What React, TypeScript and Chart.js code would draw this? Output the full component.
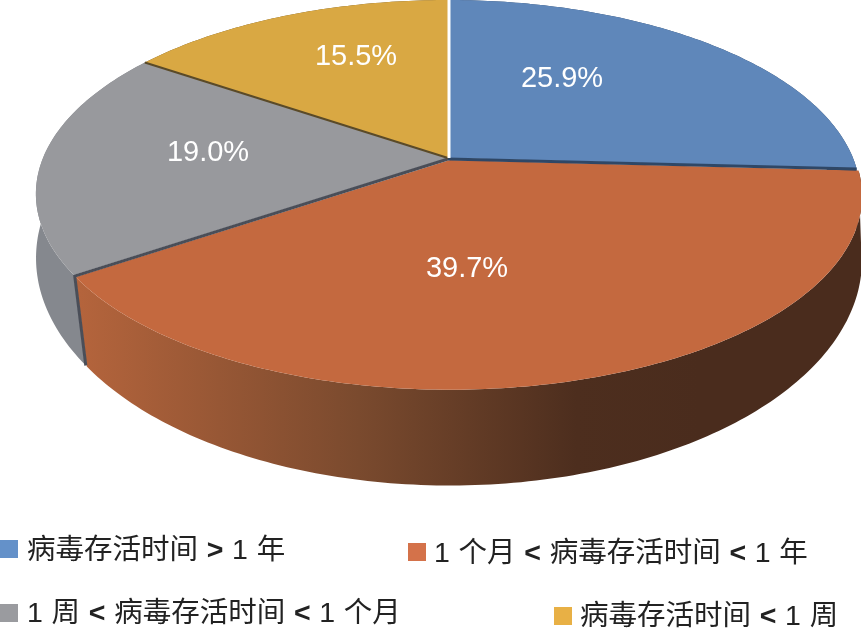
import React, { useEffect, useRef } from "react";
import { Chart, registerables } from "chart.js";

Chart.register(...registerables);

const categories = [
  "病毒存活时间 > 1 年",
  "1 个月 < 病毒存活时间 < 1 年",
  "1 周 < 病毒存活时间 < 1 个月",
  "病毒存活时间 < 1 周",
];
const shares = [25.9, 39.7, 19.0, 15.5];
const topColors = ["#5F87BA", "#C4693F", "#98999D", "#D9A843"];
const swatchColors = ["#6491C9", "#D4724A", "#9A9B9F", "#E8B045"];
const labelCenters = [
  [562, 77],
  [467, 267],
  [208, 151],
  [356, 55],
];
const legendBoxes = [
  { sx: 0, sy: 540, tx: 27, ty: 549 },
  { sx: 408, sy: 543, tx: 434, ty: 552 },
  { sx: 0, sy: 604, tx: 27, ty: 612 },
  { sx: 554, sy: 607, tx: 580, ty: 615 },
];

type Face = { cx: number; cy: number; rx: number; ry: number; k: number };
const TOP: Face = { cx: 448, cy: 158, rx: 405, ry: 187.2, k: 0.185 };
const BOTTOM: Face = { cx: 448, cy: 231, rx: 409, ry: 222.2, k: 0.12 };
const explode = [
  [0, 0],
  [2, 2],
  [0, 0],
  [0, 0],
];

const project = (f: Face, a: number, r = 1, dx = 0, dy = 0) => {
  const x = Math.cos(a) * r;
  const y = Math.sin(a) * r;
  const d = 1 - f.k * y;
  return [f.cx + dx + (f.rx * x) / d, f.cy + dy + (f.ry * y) / d];
};

const arcPoints = (f: Face, a0: number, a1: number, dx = 0, dy = 0) => {
  const n = Math.max(8, Math.ceil(Math.abs(a1 - a0) * 60));
  const pts: number[][] = [];
  for (let i = 0; i <= n; i++) pts.push(project(f, a0 + ((a1 - a0) * i) / n, 1, dx, dy));
  return pts;
};

const poly = (ctx: CanvasRenderingContext2D, pts: number[][]) => {
  ctx.beginPath();
  pts.forEach((p, i) => (i ? ctx.lineTo(p[0], p[1]) : ctx.moveTo(p[0], p[1])));
  ctx.closePath();
};

const sideFill = (ctx: CanvasRenderingContext2D, i: number) => {
  const g = ctx.createLinearGradient(80, 0, 700, 0);
  if (i === 1) {
    g.addColorStop(0, "#B4643C");
    g.addColorStop(0.45, "#7A4A2E");
    g.addColorStop(0.8, "#4D2E1E");
    g.addColorStop(1, "#4A2C1D");
  } else if (i === 2) {
    g.addColorStop(0, "#85888E");
    g.addColorStop(0.1, "#7E8188");
    g.addColorStop(1, "#7E8188");
  } else if (i === 0) {
    g.addColorStop(0, "#2F4766");
    g.addColorStop(1, "#2F4766");
  } else {
    g.addColorStop(0, "#6A5120");
    g.addColorStop(1, "#6A5120");
  }
  return g;
};

const pie3d = {
  id: "pie3d",
  beforeDatasetsDraw(chart: any) {
    const ctx: CanvasRenderingContext2D = chart.ctx;
    const arcs = chart.getDatasetMeta(0).data;
    const order = [3, 0, 2, 1];
    ctx.save();
    // Side walls
    order.forEach((i) => {
      const { startAngle: a0, endAngle: a1 } = arcs[i];
      const [dx, dy] = explode[i];
      ctx.fillStyle = sideFill(ctx, i);
      poly(ctx, [...arcPoints(TOP, a0, a1, dx, dy), ...arcPoints(BOTTOM, a0, a1, dx, dy).reverse()]);
      ctx.fill();
    });
    const orange = arcs[1];
    const seamA = project(TOP, orange.startAngle);
    const seamB = project(TOP, orange.endAngle);
    // Top faces
    order.forEach((i) => {
      const { startAngle: a0, endAngle: a1 } = arcs[i];
      const [dx, dy] = explode[i];
      ctx.fillStyle = topColors[i];
      poly(ctx, [[TOP.cx + dx, TOP.cy + dy], ...arcPoints(TOP, a0, a1, dx, dy)]);
      ctx.fill();
    });
    // Seam lines: the gap around the exploded slice
    ctx.lineCap = "butt";
    ctx.lineWidth = 3;
    ctx.strokeStyle = "#2F4766";
    ctx.beginPath();
    ctx.moveTo(TOP.cx, TOP.cy + 1);
    ctx.lineTo(seamA[0], seamA[1] + 0.5);
    ctx.stroke();
    ctx.strokeStyle = "#4A4E58";
    const bottomLeft = project(BOTTOM, orange.endAngle);
    ctx.beginPath();
    ctx.moveTo(TOP.cx, TOP.cy + 1);
    ctx.lineTo(seamB[0] + 1, seamB[1] + 1);
    ctx.lineTo(bottomLeft[0] + 1, bottomLeft[1] + 1);
    ctx.stroke();
    ctx.lineWidth = 2;
    ctx.strokeStyle = "#5A4A28";
    const yg = project(TOP, arcs[3].startAngle);
    ctx.beginPath();
    ctx.moveTo(TOP.cx, TOP.cy);
    ctx.lineTo(yg[0], yg[1]);
    ctx.stroke();
    ctx.lineWidth = 3;
    ctx.strokeStyle = "#FFFFFF";
    const t = project(TOP, arcs[0].startAngle);
    ctx.beginPath();
    ctx.moveTo(t[0] + 1, -1);
    ctx.lineTo(TOP.cx + 1, TOP.cy);
    ctx.stroke();
    // Value labels
    ctx.fillStyle = "#FFFFFF";
    ctx.font = '29px "Liberation Sans", Arial, sans-serif';
    ctx.textAlign = "center";
    ctx.textBaseline = "middle";
    shares.forEach((v, i) => {
      ctx.fillText(`${v.toFixed(1)}%`, labelCenters[i][0], labelCenters[i][1] + 2);
    });
    ctx.restore();
    return false;
  },
};

export default function App() {
  const ref = useRef<HTMLCanvasElement>(null);
  useEffect(() => {
    const chart = new Chart(ref.current!, {
      type: "pie",
      data: {
        labels: categories,
        datasets: [{ data: shares, backgroundColor: topColors, borderWidth: 0 }],
      },
      options: {
        animation: false,
        responsive: false,
        events: [],
        plugins: { legend: { display: false }, tooltip: { enabled: false } },
      },
      plugins: [pie3d],
    } as any);
    return () => chart.destroy();
  }, []);
  return (
    <div
      style={{
        position: "absolute",
        left: 0,
        top: 0,
        width: 861,
        height: 637,
        background: "#fff",
        overflow: "hidden",
        fontFamily: '"Liberation Sans", "Noto Sans CJK SC", sans-serif',
      }}
    >
      <canvas ref={ref} width={861} height={637} style={{ display: "block" }} />
      {categories.map((c, i) => (
        <React.Fragment key={c}>
          <span
            style={{
              position: "absolute",
              left: legendBoxes[i].sx,
              top: legendBoxes[i].sy,
              width: 18,
              height: 18,
              background: swatchColors[i],
            }}
          />
          <span
            style={{
              position: "absolute",
              left: legendBoxes[i].tx,
              top: legendBoxes[i].ty - 20,
              lineHeight: "40px",
              fontSize: 28.5,
              wordSpacing: 0.8,
              color: "#222",
              whiteSpace: "pre",
            }}
          >
            {c.split(/([<>])/).map((part, j) =>
              part === "<" || part === ">" ? <b key={j}>{part}</b> : <React.Fragment key={j}>{part}</React.Fragment>
            )}
          </span>
        </React.Fragment>
      ))}
    </div>
  );
}
